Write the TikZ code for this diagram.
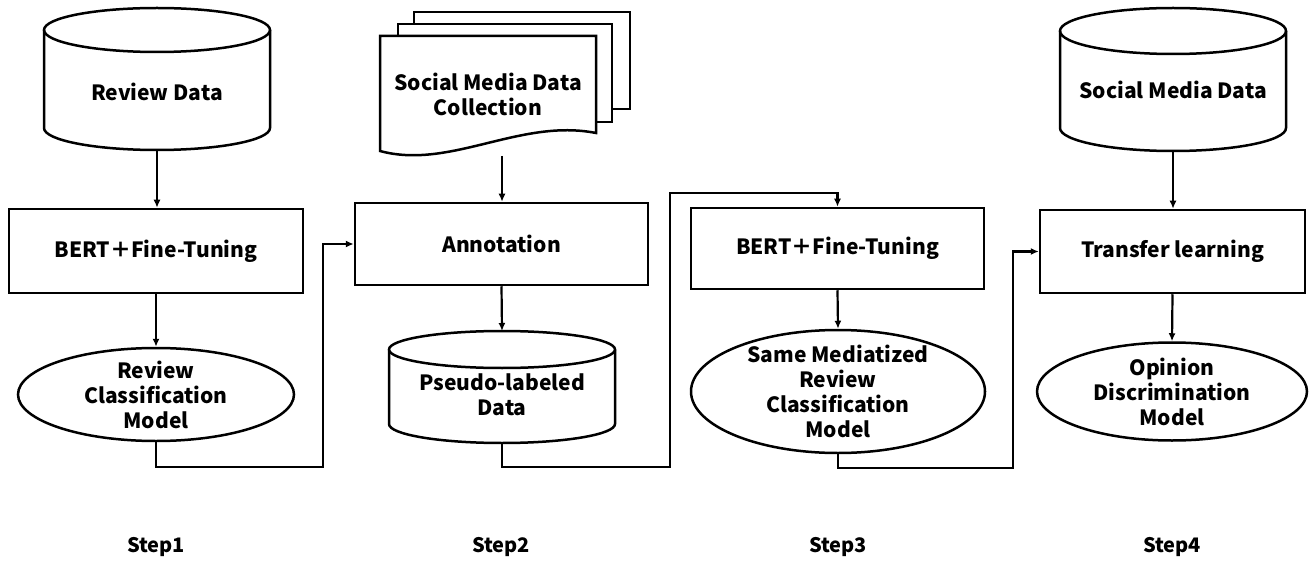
\documentclass[tikz,border=0pt]{standalone}
\usepackage{fontspec}
\setmainfont{Noto Sans CJK JP}
\usetikzlibrary{arrows.meta,shapes.geometric}
\begin{document}
\begin{tikzpicture}[x=1pt,y=1pt,
  line width=2.5pt,
  txt/.style={font=\fontsize{21}{25}\selectfont\bfseries, align=center, inner sep=0pt},
  boxnode/.style={draw, rectangle, inner sep=0pt, font=\fontsize{21}{25}\selectfont\bfseries},
  ellnode/.style={draw, ellipse, inner sep=0pt},
  arr/.style={-{Latex[length=8pt,width=7pt]}, line width=2.2pt},
  steplabel/.style={font=\fontsize{20}{24}\selectfont\bfseries, inner sep=0pt}]
\useasboundingbox (0,0) rectangle (1313,-561);

% ---------- Step 1 ----------
\draw (44,-30) -- (44,-128) arc[start angle=180,end angle=360,x radius=113,y radius=22] -- (270,-30);
\draw (157,-30) ellipse[x radius=113,y radius=22];
\node[txt] (rd) at (157,-92) {Review Data};
\coordinate (cyl1b) at (157,-150);

\node[boxnode, minimum width=294pt, minimum height=84pt] (bert1) at (156,-251) {BERT＋Fine-Tuning};
\node[ellnode, minimum width=276pt, minimum height=93pt] (e1) at (156,-394.5) {};
\node[txt] (e1t) at (e1) {Review\\Classification\\Model};

% ---------- Step 2 ----------
\draw (414,-24) -- (414,-12) -- (630,-12) -- (630,-109) -- (612,-109);
\draw (398,-36) -- (398,-24) -- (612,-24) -- (612,-122) -- (596,-122);
\draw (380,-36) -- (596,-36) -- (596,-133) .. controls (520,-118) and (450,-170) .. (380,-151) -- cycle;
\node[txt] (smdc) at (488,-94) {Social Media Data\\Collection};
\coordinate (docb) at (502,-156);

\node[boxnode, minimum width=293pt, minimum height=82pt] (anno) at (501.5,-244) {Annotation};

\draw (389,-349.5) -- (389,-424) arc[start angle=180,end angle=360,x radius=113,y radius=19] -- (615,-349.5);
\draw (502,-349.5) ellipse[x radius=113,y radius=18.5];
\node[txt] (pld) at (502,-395) {Pseudo-labeled\\Data};
\coordinate (pldt) at (502,-331);
\coordinate (pldb) at (502,-443);

% ---------- Step 3 ----------
\node[boxnode, minimum width=293pt, minimum height=81pt] (bert3) at (837.5,-248.5) {BERT＋Fine-Tuning};
\node[ellnode, minimum width=294pt, minimum height=123pt] (e3) at (838,-391.5) {};
\node[txt] (e3t) at (838,-391) {Same Mediatized\\Review\\Classification\\Model};

% ---------- Step 4 ----------
\draw (1060,-31) -- (1060,-128) arc[start angle=180,end angle=360,x radius=113,y radius=23] -- (1286,-31);
\draw (1173,-31) ellipse[x radius=113,y radius=23];
\node[txt] (smd) at (1173,-90) {Social Media Data};
\coordinate (cyl4b) at (1173,-151);

\node[boxnode, minimum width=265pt, minimum height=83pt] (trans) at (1172.5,-251.5) {Transfer learning};
\node[ellnode, minimum width=270pt, minimum height=98pt] (e4) at (1172,-391.5) {};
\node[txt] (e4t) at (e4) {Opinion\\Discrimination\\Model};

% ---------- Connectors ----------
\coordinate (b1) at (323,-467);
\coordinate (b2) at (670,-193);
\coordinate (b3) at (1013,-468);

\draw[arr] (cyl1b) -- (cyl1b |- bert1.north);
\draw[arr] (bert1.south) -- (e1.north);
\draw[arr] (e1.south) |- (b1) |- (anno.west);

\draw[arr] (docb) -- (docb |- anno.north);
\draw[arr] (anno.south) -- (pldt);
\draw[arr] (pldb) -- ++(0,-24) -| (b2) -| (bert3.north);

\draw[arr] (bert3.south) -- (e3.north);
\draw[arr] (e3.south) |- (b3) |- (trans.west);

\draw[arr] (cyl4b) -- (cyl4b |- trans.north);
\draw[arr] (trans.south) -- (e4.north);

% ---------- Step labels ----------
\node[steplabel] (s1) at (156,-547) {Step1};
\node[steplabel] (s2) at (501,-547) {Step2};
\node[steplabel] (s3) at (838,-547) {Step3};
\node[steplabel] (s4) at (1172,-547) {Step4};
\end{tikzpicture}
\end{document}
